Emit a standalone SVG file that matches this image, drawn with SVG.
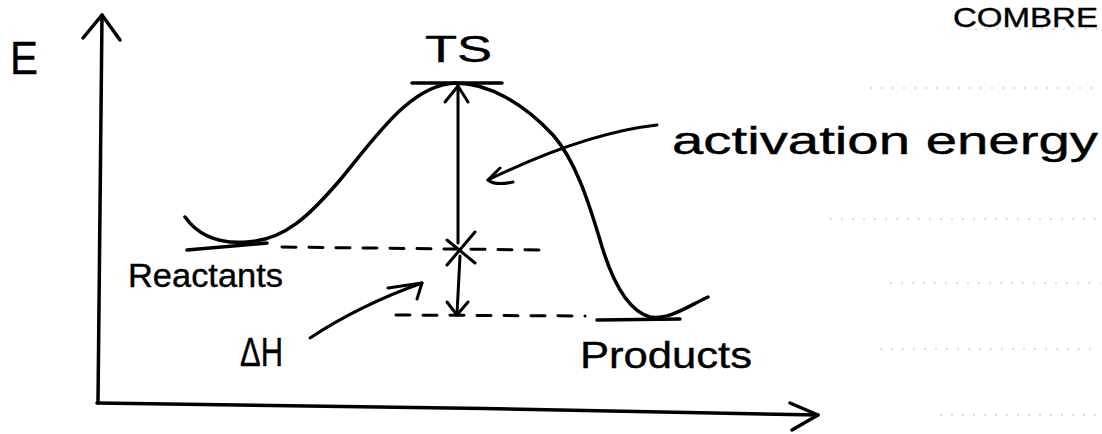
<svg xmlns="http://www.w3.org/2000/svg" width="1102" height="434" viewBox="0 0 1102 434">
<style>
.ink{fill:none;stroke:#000;stroke-width:3.5;stroke-linecap:round;stroke-linejoin:round}
.thin{fill:none;stroke:#000;stroke-width:3;stroke-linecap:round;stroke-linejoin:round}
.dash{fill:none;stroke:#000;stroke-width:3;stroke-dasharray:14 13;stroke-linecap:round}
.rule{fill:none;stroke:#bdbdbd;stroke-width:1;stroke-dasharray:2 9}
.lbl{font-family:"Liberation Sans",Arial,sans-serif;fill:#000;stroke:#000;stroke-width:0.4}
</style>
<rect width="1102" height="434" fill="#fff"/>
<g id="ruled-lines">
<line class="rule" x1="975" y1="29" x2="1100" y2="29"/>
<line class="rule" x1="870" y1="88" x2="1100" y2="88"/>
<line class="rule" x1="830" y1="219" x2="1100" y2="219"/>
<line class="rule" x1="890" y1="283" x2="1100" y2="283"/>
<line class="rule" x1="880" y1="349" x2="1100" y2="349"/>
<line class="rule" x1="940" y1="415" x2="1100" y2="415"/>
</g>
<g id="connectors">
<!-- y axis -->
<path class="ink" d="M98,403 L102,15"/>
<path class="ink" d="M83,38 L102,15 L120,40"/>
<!-- x axis -->
<path class="ink" d="M97,403 C300,405 600,410 818,415"/>
<path class="ink" d="M790,403 L818,415 L792,430"/>
<!-- energy curve -->
<path id="energy-curve" class="ink" d="M185,217 C200,238 222,244 247,242 C285,240 310,215 340,180 C375,138 410,85 455,83 C490,83 525,105 553,135 C575,160 588,200 600,240 C610,275 625,310 650,317 C670,320 690,305 708,297"/>
<!-- level lines -->
<path class="ink" d="M187,250 L267,243"/>
<path class="ink" d="M412,83 L502,83"/>
<path class="ink" d="M597,320 L680,319"/>
<!-- dashed lines -->
<path class="dash" d="M282,247 L540,250"/>
<path class="dash" d="M396,315 L585,316"/>
<!-- activation energy double arrow -->
<path class="thin" d="M458,86 L458,243"/>
<path class="thin" d="M445,102 L458,86 L468,102"/>
<path class="thin" d="M447,240 L475,263 M475,232 L447,265"/>
<path class="thin" d="M460,256 L457,314"/>
<path class="thin" d="M447,302 L457,315 L468,302"/>
<!-- pointer to activation energy -->
<path class="thin" d="M657,125 Q585,133 488,180"/>
<path class="thin" d="M500,168 L488,180 Q495,186 513,182"/>
<!-- pointer to dH -->
<path class="thin" d="M310,338 Q360,305 422,283"/>
<path class="thin" d="M388,288 L422,283 L417,299"/>
</g>
<g id="label-E"><text class="lbl" x="10" y="74" font-size="46" textLength="28" lengthAdjust="spacingAndGlyphs">E</text></g>
<g id="label-TS"><text class="lbl" x="425" y="62" font-size="36" textLength="67" lengthAdjust="spacingAndGlyphs">TS</text></g>
<g id="label-activation"><text class="lbl" x="672" y="154" font-size="38" textLength="426" lengthAdjust="spacingAndGlyphs">activation energy</text></g>
<g id="label-reactants"><text class="lbl" x="128" y="287" font-size="34" textLength="155" lengthAdjust="spacingAndGlyphs">Reactants</text></g>
<g id="label-dH"><text class="lbl" x="240" y="366" font-size="40" textLength="43" lengthAdjust="spacingAndGlyphs">ΔH</text></g>
<g id="label-products"><text class="lbl" x="580" y="368" font-size="36" textLength="172" lengthAdjust="spacingAndGlyphs">Products</text></g>
<g id="label-combre"><text class="lbl" x="953" y="27" font-size="28" textLength="145" lengthAdjust="spacingAndGlyphs">COMBRE</text></g>
</svg>
